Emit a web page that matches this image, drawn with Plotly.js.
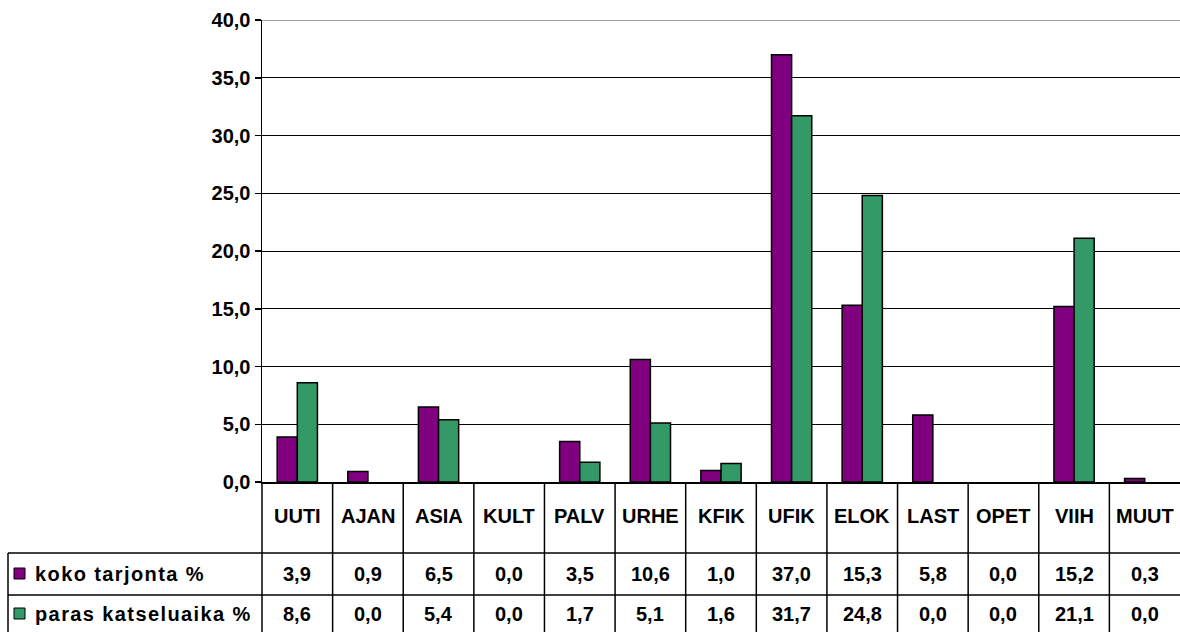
<!DOCTYPE html>
<html>
<head>
<meta charset="utf-8">
<script src="https://cdn.plot.ly/plotly-3.0.1.min.js"></script>
<style>
html, body { margin: 0; padding: 0; background: #fff; }
#chart { width: 1180px; height: 632px; }
</style>
</head>
<body>
<div id="chart"></div>
<script>
// ---- data ----
const categories = ['UUTI','AJAN','ASIA','KULT','PALV','URHE','KFIK','UFIK','ELOK','LAST','OPET','VIIH','MUUT'];
const kokoTarjonta = [3.9, 0.9, 6.5, 0.0, 3.5, 10.6, 1.0, 37.0, 15.3, 5.8, 0.0, 15.2, 0.3];
const parasKatseluaika = [8.6, 0.0, 5.4, 0.0, 1.7, 5.1, 1.6, 31.7, 24.8, 0.0, 0.0, 21.1, 0.0];
const seriesNames = ['koko tarjonta %', 'paras katseluaika %'];
const yTicks = [0, 5, 10, 15, 20, 25, 30, 35, 40];

// ---- geometry helpers (pixel -> paper) ----
const W = 1180, H = 632;
const M = {l: 262, r: 0, t: 20, b: 150};
const PW = W - M.l - M.r, PH = H - M.t - M.b;
const px = x => (x - M.l) / PW;
const py = y => (H - M.b - y) / PH;

const colors = ['#800080', '#339966'];
const fontFam = 'Liberation Sans, Arial, sans-serif';
const FS = 20;
const fmt = v => v.toFixed(1).replace('.', ',');

const idx = categories.map((c, i) => i);
const series = [kokoTarjonta, parasKatseluaika];

const traces = series.map((vals, s) => ({
  type: 'bar',
  x: idx,
  y: vals.map(v => (v === 0 ? null : v)),
  name: seriesNames[s],
  marker: {color: colors[s], line: {color: '#000', width: 1.5}},
  hoverinfo: 'none'
}));

const tableTop = py(482), row1Top = py(553), row2Top = py(595), tableBottom = py(640);
const shapes = [];
// top gridline (grey)
shapes.push({type: 'line', xref: 'paper', yref: 'y', x0: 0, x1: 1, y0: 40, y1: 40,
  line: {color: '#808080', width: 1.5}, layer: 'above'});
// category separators through the table
for (let i = 0; i < categories.length - 1; i++) {
  shapes.push({type: 'line', xref: 'x', yref: 'paper', x0: i + 0.5, x1: i + 0.5,
    y0: tableTop, y1: tableBottom, line: {color: '#000', width: 1.5}});
}
// y-axis line continued through table
shapes.push({type: 'line', xref: 'paper', yref: 'paper', x0: 0, x1: 0, y0: tableTop, y1: tableBottom,
  line: {color: '#000', width: 1.5}});
// table horizontal lines
[row1Top, row2Top].forEach(yy => shapes.push({type: 'line', xref: 'paper', yref: 'paper',
  x0: px(8), x1: 1, y0: yy, y1: yy, line: {color: '#000', width: 1.5}}));
// table left border
shapes.push({type: 'line', xref: 'paper', yref: 'paper', x0: px(8), x1: px(8), y0: row1Top, y1: tableBottom,
  line: {color: '#000', width: 1.5}});

const rowCenters = [py(574), py(614)];
// legend keys
series.forEach((vals, s) => {
  const cy = [574, 614][s];
  shapes.push({type: 'rect', xref: 'paper', yref: 'paper',
    x0: px(14), x1: px(25), y0: py(cy - 6), y1: py(cy + 5),
    fillcolor: colors[s], line: {color: '#000', width: 1}});
});

const tf = {family: fontFam, size: FS, color: '#000', weight: 'bold'};
const annotations = [];
categories.forEach((c, i) => {
  annotations.push({xref: 'x', yref: 'paper', x: i, y: py(516), text: c, showarrow: false,
    xanchor: 'center', yanchor: 'middle', font: tf});
});
series.forEach((vals, s) => {
  annotations.push({xref: 'paper', yref: 'paper', x: px(33), y: rowCenters[s], text: seriesNames[s],
    showarrow: false, xanchor: 'left', yanchor: 'middle', font: tf});
  vals.forEach((v, i) => {
    annotations.push({xref: 'x', yref: 'paper', x: i, y: rowCenters[s], text: fmt(v), showarrow: false,
      xanchor: 'center', yanchor: 'middle', font: tf});
  });
});

const layout = {
  width: W, height: H,
  margin: M,
  paper_bgcolor: '#fff', plot_bgcolor: '#fff',
  separators: ', ',
  font: tf,
  showlegend: false,
  barmode: 'group',
  bargap: 0.43,
  bargroupgap: 0,
  xaxis: {
    type: 'linear', range: [-0.5, categories.length - 0.5],
    showticklabels: false, ticks: '', showgrid: false, zeroline: false,
    showline: true, linecolor: '#000', linewidth: 1.5, fixedrange: true
  },
  yaxis: {
    range: [0, 40], tickvals: yTicks, tickformat: '.1f',
    ticks: 'outside', ticklen: 6, tickcolor: '#000', tickwidth: 1.5,
    showline: true, linecolor: '#000', linewidth: 1.5,
    showgrid: true, gridcolor: '#000', gridwidth: 1, zeroline: false,
    tickfont: tf,
    fixedrange: true
  },
  shapes: shapes,
  annotations: annotations
};

Plotly.newPlot('chart', traces, layout, {displayModeBar: false, staticPlot: true}).then(() => {
  // the original's legend labels are drawn with wider letter spacing; keep their left edge fixed
  document.querySelectorAll('#chart .annotation-text').forEach(t => {
    if (seriesNames.includes(t.textContent)) {
      const before = t.getBBox().x;
      t.style.letterSpacing = '1.4px';
      const after = t.getBBox().x;
      const x0 = parseFloat(t.getAttribute('x')) || 0;
      t.setAttribute('x', x0 + (before - after));
    }
  });
});
</script>
</body>
</html>
